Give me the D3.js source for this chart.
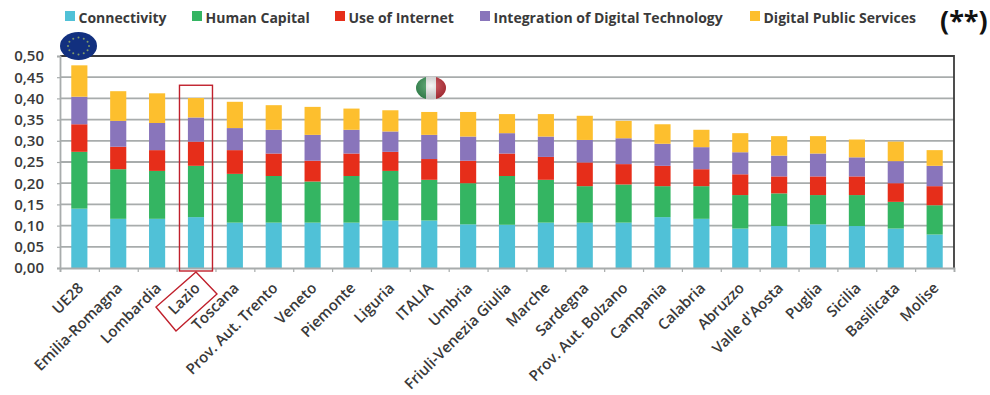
<!DOCTYPE html>
<html>
<head>
<meta charset="utf-8">
<script src="https://cdnjs.cloudflare.com/ajax/libs/d3/7.8.5/d3.min.js"></script>
<style>
  html, body { margin: 0; padding: 0; background: #fff; }
  svg { display: block; }
  text { font-family: "Open Sans", sans-serif; }
</style>
</head>
<body>
<svg id="chart" width="990" height="395"></svg>
<script>
// DESI index by region, one array per dimension.
const regions = ["UE28", "Emilia-Romagna", "Lombardia", "Lazio", "Toscana", "Prov. Aut. Trento", "Veneto", "Piemonte", "Liguria", "ITALIA", "Umbria", "Friuli-Venezia Giulia", "Marche", "Sardegna", "Prov. Aut. Bolzano", "Campania", "Calabria", "Abruzzo", "Valle d'Aosta", "Puglia", "Sicilia", "Basilicata", "Molise"];
const connectivity = [0.140, 0.116, 0.116, 0.120, 0.107, 0.107, 0.107, 0.107, 0.112, 0.112, 0.103, 0.102, 0.107, 0.107, 0.107, 0.120, 0.116, 0.093, 0.099, 0.103, 0.099, 0.093, 0.079];
const humanCapital = [0.134, 0.117, 0.113, 0.121, 0.115, 0.110, 0.097, 0.110, 0.117, 0.096, 0.097, 0.115, 0.101, 0.086, 0.090, 0.073, 0.077, 0.079, 0.077, 0.069, 0.073, 0.063, 0.069];
const useOfInternet = [0.065, 0.053, 0.049, 0.057, 0.056, 0.053, 0.049, 0.053, 0.045, 0.049, 0.053, 0.053, 0.054, 0.056, 0.048, 0.048, 0.040, 0.049, 0.040, 0.044, 0.044, 0.044, 0.045];
const integration = [0.065, 0.061, 0.064, 0.057, 0.052, 0.056, 0.061, 0.056, 0.048, 0.057, 0.057, 0.048, 0.048, 0.053, 0.061, 0.052, 0.052, 0.052, 0.049, 0.054, 0.045, 0.052, 0.048];
const publicServices = [0.074, 0.070, 0.070, 0.046, 0.062, 0.058, 0.066, 0.050, 0.050, 0.054, 0.058, 0.045, 0.053, 0.057, 0.041, 0.046, 0.041, 0.045, 0.046, 0.041, 0.042, 0.046, 0.037];

const seriesNames = ["Connectivity", "Human Capital", "Use of Internet", "Integration of Digital Technology", "Digital Public Services"];
const seriesColors = ["#50c1d7", "#34b562", "#e62e1a", "#8975bb", "#fdbf2e"];
const seriesValues = [connectivity, humanCapital, useOfInternet, integration, publicServices];
const yTickValues = [0, 0.05, 0.10, 0.15, 0.20, 0.25, 0.30, 0.35, 0.40, 0.45, 0.50];
const highlighted = "Lazio";

const legendSwatchX = [65, 192, 335, 480, 750];
const plot = { left: 60, right: 954, top: 56, bottom: 268 };
const textColor = "#3a3a3a";
const gridColor = "#a8acac";

const svg = d3.select("#chart");

const x = d3.scaleBand().domain(regions).range([plot.left, plot.right]).paddingInner(0.585).paddingOuter(0.29);
const y = d3.scaleLinear().domain([0, 0.5]).range([plot.bottom, plot.top]);

// Gridlines sit behind the stacked columns.
svg.append("g").selectAll("line")
  .data(yTickValues.slice(1, -1))
  .join("line")
  .attr("x1", plot.left).attr("x2", plot.right)
  .attr("y1", d => y(d)).attr("y2", d => y(d))
  .attr("stroke", gridColor).attr("stroke-width", 1.8);

// Stacked columns.
const rows = regions.map((region, i) => {
  const row = { region };
  seriesNames.forEach((name, s) => { row[name] = seriesValues[s][i]; });
  return row;
});
const stacked = d3.stack().keys(seriesNames)(rows);
svg.append("g").selectAll("g")
  .data(stacked)
  .join("g")
  .attr("fill", (d, i) => seriesColors[i])
  .selectAll("rect")
  .data(d => d)
  .join("rect")
  .attr("x", d => x(d.data.region))
  .attr("width", x.bandwidth())
  .attr("y", d => y(d[1]))
  .attr("height", d => y(d[0]) - y(d[1]));

// Frame: dark on the top and right, grey on the left.
svg.append("path")
  .attr("d", `M${plot.left},${plot.top}H${plot.right}V${plot.bottom}`)
  .attr("fill", "none").attr("stroke", "#3c3c3c").attr("stroke-width", 1.8);

// Value axis.
const yAxis = svg.append("g")
  .attr("transform", `translate(${plot.left},0)`)
  .call(d3.axisLeft(y).tickValues(yTickValues).tickSize(3).tickPadding(13)
    .tickFormat(d => d3.format(".2f")(d).replace(".", ",")));
yAxis.select(".domain").attr("stroke", gridColor).attr("stroke-width", 1.8);
yAxis.selectAll("line").attr("stroke", gridColor).attr("stroke-width", 1.2);
yAxis.selectAll("text")
  .attr("fill", textColor)
  .style("font-size", "15px").style("font-weight", 600);

// Category axis: ticks fall on the band edges, labels are slanted under each column.
const edgeScale = d3.scaleLinear().domain([0, regions.length]).range([plot.left, plot.right]);
const xAxis = svg.append("g")
  .attr("transform", `translate(0,${plot.bottom})`)
  .call(d3.axisBottom(edgeScale).tickValues(d3.range(regions.length + 1)).tickSize(4).tickFormat(""));
xAxis.select(".domain").attr("stroke", gridColor).attr("stroke-width", 1.8);
xAxis.selectAll("line").attr("stroke", gridColor).attr("stroke-width", 1.2);

svg.append("g").selectAll("text")
  .data(regions)
  .join("text")
  .attr("transform", d => `translate(${x(d) + x.bandwidth() / 2 + 5},${plot.bottom + 21}) rotate(-45)`)
  .attr("text-anchor", "end")
  .attr("fill", textColor)
  .style("font-size", "15px").style("font-weight", 600)
  .text(d => d);

// Legend across the top.
const legend = svg.append("g").selectAll("g")
  .data(seriesNames)
  .join("g")
  .attr("transform", (d, i) => `translate(${legendSwatchX[i]},0)`);
legend.append("rect")
  .attr("y", 11).attr("width", 10).attr("height", 10)
  .attr("fill", (d, i) => seriesColors[i]);
legend.append("text")
  .attr("x", 13.5).attr("y", 22.5)
  .attr("fill", textColor)
  .style("font-size", "14px").style("font-weight", 700)
  .text(d => d);

svg.append("text")
  .attr("x", 940).attr("y", 30)
  .attr("fill", "#111")
  .style("font-size", "27px").style("font-weight", 700)
  .text("(**)");

// Red call-outs around the highlighted region's column and label.
const focusX = x(highlighted) + x.bandwidth() / 2;
const callouts = svg.append("g").attr("fill", "none").attr("stroke", "#c0202c").attr("stroke-width", 1.4);
callouts.append("rect")
  .attr("x", focusX - 16.5).attr("width", 33)
  .attr("y", y(0.431)).attr("height", y(0) + 3 - y(0.431));
callouts.append("polygon")
  .attr("points", [[0, 4], [21, 26], [-20, 63], [-40, 39]]
    .map(([dx, dy]) => [focusX + dx, plot.bottom + dy].join(",")).join(" "));

// Round emblems placed on the chart: the EU flag and the Italian flag.
const defs = svg.append("defs");
const gloss = defs.append("radialGradient").attr("id", "gloss").attr("cx", "50%").attr("cy", "40%").attr("r", "62%");
gloss.append("stop").attr("offset", "0%").attr("stop-color", "#fff").attr("stop-opacity", 0.25);
gloss.append("stop").attr("offset", "100%").attr("stop-color", "#000").attr("stop-opacity", 0.22);

const euCenter = { x: 78.5, y: 46, rx: 18.5, ry: 14 };
const eu = svg.append("g");
eu.append("ellipse")
  .attr("cx", euCenter.x).attr("cy", euCenter.y).attr("rx", euCenter.rx).attr("ry", euCenter.ry)
  .attr("fill", "#12307f");
eu.selectAll("circle")
  .data(d3.range(12))
  .join("circle")
  .attr("cx", i => euCenter.x + 10.5 * Math.cos(i * Math.PI / 6))
  .attr("cy", i => euCenter.y + 8.5 * Math.sin(i * Math.PI / 6))
  .attr("r", 1)
  .attr("fill", "#7f9a6a");

const itCenter = { x: 431, y: 88, rx: 15, ry: 11.5 };
defs.append("clipPath").attr("id", "itClip").append("ellipse")
  .attr("cx", itCenter.x).attr("cy", itCenter.y).attr("rx", itCenter.rx).attr("ry", itCenter.ry);
const it = svg.append("g").attr("clip-path", "url(#itClip)");
["#3c9a5a", "#f2f2f2", "#c8323c"].forEach((c, i) => {
  it.append("rect")
    .attr("x", itCenter.x - itCenter.rx + i * (2 * itCenter.rx / 3))
    .attr("y", itCenter.y - itCenter.ry)
    .attr("width", 2 * itCenter.rx / 3 + 0.5)
    .attr("height", 2 * itCenter.ry)
    .attr("fill", c);
});
it.append("ellipse")
  .attr("cx", itCenter.x).attr("cy", itCenter.y).attr("rx", itCenter.rx).attr("ry", itCenter.ry)
  .attr("fill", "url(#gloss)");
</script>
</body>
</html>
